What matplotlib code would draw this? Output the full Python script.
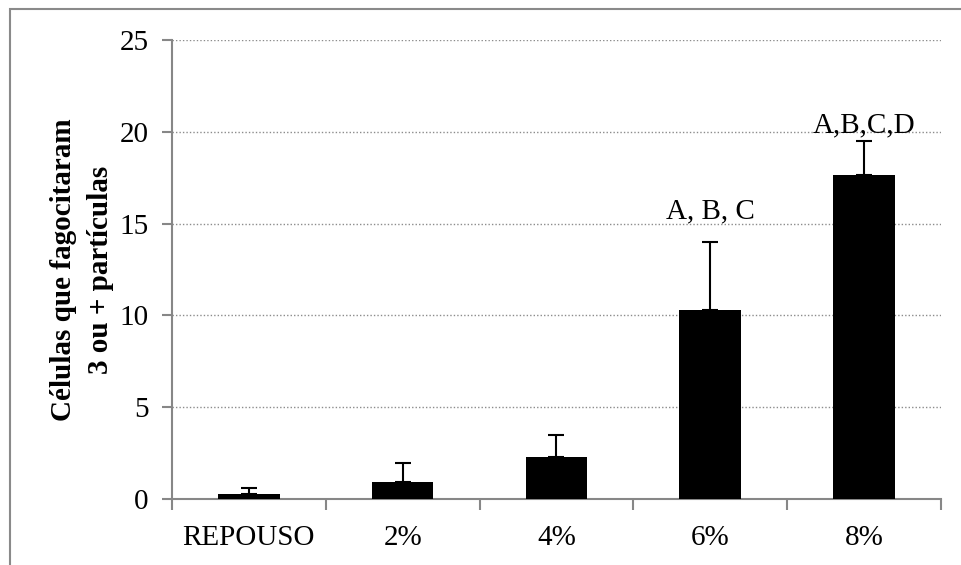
import matplotlib
matplotlib.use("Agg")
import matplotlib.pyplot as plt
from matplotlib.patches import Rectangle

categories = ["REPOUSO", "2%", "4%", "6%", "8%"]
means = [0.28, 0.95, 2.3, 10.3, 17.65]
errors = [0.34, 1.0, 1.2, 3.7, 1.87]
letters = {3: ("A, B, C", 15.3), 4: ("A,B,C,D", 20.0)}

plt.rcParams["font.family"] = ["Liberation Serif", "DejaVu Serif"]
plt.rcParams["font.size"] = 21

axis_grey = "#878787"

fig = plt.figure(figsize=(9.61, 5.65), dpi=100)
ax = fig.add_axes([0.179, 0.1168, 0.8, 0.8122])

x = list(range(len(categories)))
ax.bar(x, means, width=0.4, color="black", zorder=3)
ax.errorbar(x, means, yerr=[[0] * len(means), errors], fmt="none",
            ecolor="black", elinewidth=1.5, capsize=5.5, capthick=1.5, zorder=4)

for i, (txt, ypos) in letters.items():
    ax.text(i, ypos, txt, ha="center", va="baseline", fontsize=21)

ax.set_xlim(-0.5, len(categories) - 0.5)
ax.set_ylim(0, 25)
ax.set_yticks([0, 5, 10, 15, 20, 25])
ax.yaxis.grid(True, linestyle=(0, (1, 1.5)), color="#8c8c8c", linewidth=1.0, zorder=0)

# category separators as major ticks, labels on minor ticks
ax.set_xticks([i - 0.5 for i in range(len(categories) + 1)])
ax.set_xticklabels([])
ax.set_xticks(x, minor=True)
ax.set_xticklabels(categories, minor=True)
ax.tick_params(axis="x", which="major", direction="out", length=8, width=1.5, color=axis_grey)
ax.tick_params(axis="x", which="minor", length=0, pad=19)
ax.tick_params(axis="y", direction="out", length=7, width=1.5, color=axis_grey, pad=10)

for side in ["top", "right"]:
    ax.spines[side].set_visible(False)
for side in ["left", "bottom"]:
    ax.spines[side].set_color(axis_grey)
    ax.spines[side].set_linewidth(1.5)

ax.set_ylabel("Células que fagocitaram\n3 ou + partículas", fontweight="bold",
              fontsize=21, linespacing=1.45, labelpad=4)

# chart area frame
fig.add_artist(Rectangle((10 / 961, -0.1), 1.2, 1 - 9 / 565 + 0.1, transform=fig.transFigure,
                         fill=False, edgecolor="#8a8a8a", linewidth=1.5))

fig.savefig("out.png", dpi=100)
